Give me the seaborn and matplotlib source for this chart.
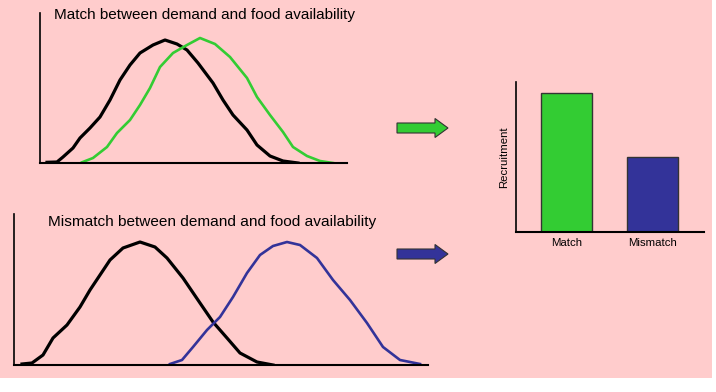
import matplotlib
matplotlib.use("Agg")
import matplotlib.pyplot as plt
from matplotlib.patches import Rectangle, FancyArrow
import pandas as pd
import seaborn as sns

W, H = 716, 392

# curves (x = time, y = level above baseline)
match_demand_x = [7, 17, 23, 33, 40, 50, 60, 70, 80, 90, 100, 113, 125, 137, 147, 158,
                  173, 183, 193, 207, 217, 230, 243, 258]
match_demand_y = [0.7, 1, 6, 15, 25, 35, 46, 63, 83, 98, 110, 118, 123, 119, 113, 100,
                  80, 63, 48, 33, 18, 7, 2, 0]
match_food_x = [42, 53, 67, 77, 90, 100, 110, 120, 133, 147, 160, 175, 190, 207, 217,
                230, 243, 253, 267, 280, 293]
match_food_y = [0.7, 5, 16, 30, 43, 58, 75, 96, 110, 118, 125, 119, 106, 85, 66,
                48, 31, 16, 7, 2, 0]

mismatch_demand_x = [8, 18, 29, 39, 53, 66, 76, 86, 96, 109, 126, 141, 153, 169, 186,
                     199, 213, 226, 243, 259]
mismatch_demand_y = [1, 2, 10, 27, 40, 58, 75, 90, 105, 117, 123, 118, 107, 87, 62,
                     43, 27, 12, 3, 0]
mismatch_food_x = [156, 168, 179, 193, 206, 219, 233, 246, 259, 273, 286, 303, 319, 336,
                   353, 369, 386, 406]
mismatch_food_y = [1, 5, 18, 35, 48, 68, 92, 110, 119, 123, 120, 107, 85, 65,
                   42, 18, 5, 1]

outcomes = ["Match", "Mismatch"]
recruitment = [139, 75]

GREEN = "#33CC33"
BLUE = "#333399"
PINK = "#FFCCCC"


def px_axes(fig, left, top, width, height):
    return fig.add_axes([left / W, (H - top - height) / H, width / W, height / H])


def curve_panel(ax, xs1, ys1, xs2, ys2, col2, xmax, ymax):
    d1 = pd.DataFrame({"x": xs1, "y": ys1})
    d2 = pd.DataFrame({"x": xs2, "y": ys2})
    sns.lineplot(data=d1, x="x", y="y", ax=ax, color="black", lw=2.3,
                 sort=False, estimator=None)
    sns.lineplot(data=d2, x="x", y="y", ax=ax, color=col2, lw=1.9,
                 sort=False, estimator=None)
    ax.set_xlim(0, xmax)
    ax.set_ylim(0, ymax)
    ax.set_facecolor("none")
    ax.set_xticks([])
    ax.set_yticks([])
    ax.set_xlabel("")
    ax.set_ylabel("")
    sns.despine(ax=ax)
    for s in ("left", "bottom"):
        ax.spines[s].set_color("black")
        ax.spines[s].set_linewidth(1.5)
    ax.spines["left"].set_linewidth(1.2)


fig = plt.figure(figsize=(W / 100, H / 100), dpi=100)
fig.patch.set_facecolor("white")
plt.rcParams["font.family"] = ["Liberation Sans", "DejaVu Sans"]

fig.patches.append(Rectangle((0, 1 - 378 / H), 712 / W, 378 / H,
                             transform=fig.transFigure, facecolor=PINK,
                             edgecolor="none", zorder=-5))

ax1 = px_axes(fig, 40, 13, 307, 150)
curve_panel(ax1, match_demand_x, match_demand_y, match_food_x, match_food_y,
            GREEN, 307, 150)
fig.text(54 / W, 1 - 15 / H, "Match between demand and food availability",
         fontsize=11, va="center", ha="left")

ax2 = px_axes(fig, 14, 214, 414, 151)
curve_panel(ax2, mismatch_demand_x, mismatch_demand_y, mismatch_food_x,
            mismatch_food_y, BLUE, 414, 151)
fig.text(48 / W, 1 - 222 / H, "Mismatch between demand and food availability",
         fontsize=11.1, va="center", ha="left")

# arrows
for yc, col in ((128, GREEN), (254, BLUE)):
    fig.patches.append(FancyArrow(397 / W, 1 - yc / H, 51 / W, 0,
                                  width=10 / H, head_width=19 / H,
                                  head_length=13 / W, length_includes_head=True,
                                  transform=fig.transFigure, facecolor=col,
                                  edgecolor="#333333", lw=0.8, zorder=2))

# bar chart
ax3 = px_axes(fig, 516, 82, 188, 150)
bars = pd.DataFrame({"outcome": outcomes, "recruitment": recruitment})
sns.barplot(data=bars, x="outcome", y="recruitment", hue="outcome",
            palette=[GREEN, BLUE], width=0.59, edgecolor="#333333",
            linewidth=1, legend=False, ax=ax3, saturation=1)
ax3.set_xlim(-0.584, 1.59)
ax3.set_ylim(0, 150)
ax3.set_facecolor("none")
ax3.set_yticks([])
ax3.tick_params(axis="x", length=0, pad=4, labelsize=8.2)
ax3.set_xlabel("")
ax3.set_ylabel("Recruitment", fontsize=8.2, labelpad=5)
sns.despine(ax=ax3)
for s in ("left", "bottom"):
    ax3.spines[s].set_color("black")
    ax3.spines[s].set_linewidth(1.5)
ax3.spines["left"].set_linewidth(1.2)

fig.savefig("out.png", dpi=100)
